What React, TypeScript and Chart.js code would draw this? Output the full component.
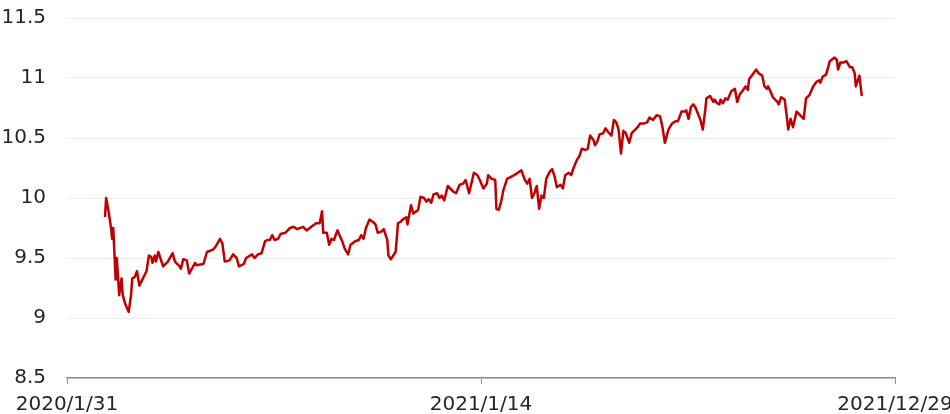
import React, { useEffect, useRef } from "react";
import { Chart, registerables } from "chart.js";

Chart.register(...registerables);

const dates: string[] = [
  "2020-03-03","2020-03-04","2020-03-06","2020-03-08","2020-03-09","2020-03-10","2020-03-12","2020-03-13","2020-03-15","2020-03-17",
  "2020-03-18","2020-03-20","2020-03-23","2020-03-25","2020-03-26","2020-03-28","2020-03-30","2020-04-01","2020-04-04","2020-04-07",
  "2020-04-09","2020-04-11","2020-04-12","2020-04-14","2020-04-15","2020-04-17","2020-04-21","2020-04-25","2020-04-29","2020-05-01",
  "2020-05-05","2020-05-06","2020-05-08","2020-05-11","2020-05-13","2020-05-18","2020-05-19","2020-05-25","2020-05-28","2020-06-02",
  "2020-06-04","2020-06-08","2020-06-10","2020-06-12","2020-06-16","2020-06-19","2020-06-22","2020-06-24","2020-06-28","2020-06-30",
  "2020-07-05","2020-07-07","2020-07-10","2020-07-13","2020-07-16","2020-07-18","2020-07-20","2020-07-22","2020-07-24","2020-07-27",
  "2020-07-29","2020-08-02","2020-08-06","2020-08-09","2020-08-12","2020-08-17","2020-08-20","2020-08-24","2020-08-28","2020-08-31",
  "2020-09-02","2020-09-03","2020-09-06","2020-09-08","2020-09-10","2020-09-12","2020-09-15","2020-09-19","2020-09-21","2020-09-24",
  "2020-09-26","2020-09-30","2020-10-03","2020-10-05","2020-10-07","2020-10-09","2020-10-12","2020-10-15","2020-10-17","2020-10-19",
  "2020-10-22","2020-10-24","2020-10-27","2020-10-28","2020-10-30","2020-11-03","2020-11-04","2020-11-05","2020-11-07","2020-11-09",
  "2020-11-12","2020-11-13","2020-11-16","2020-11-18","2020-11-22","2020-11-24","2020-11-27","2020-11-29","2020-12-01","2020-12-03",
  "2020-12-05","2020-12-08","2020-12-10","2020-12-12","2020-12-14","2020-12-17","2020-12-22","2020-12-24","2020-12-27","2020-12-30",
  "2021-01-01","2021-01-04","2021-01-08","2021-01-11","2021-01-13","2021-01-16","2021-01-19","2021-01-20","2021-01-23","2021-01-26",
  "2021-01-27","2021-01-29","2021-01-31","2021-02-02","2021-02-05","2021-02-11","2021-02-17","2021-02-20","2021-02-22","2021-02-24",
  "2021-02-26","2021-02-28","2021-03-02","2021-03-04","2021-03-06","2021-03-08","2021-03-10","2021-03-13","2021-03-15","2021-03-17",
  "2021-03-19","2021-03-22","2021-03-24","2021-03-26","2021-03-29","2021-03-31","2021-04-02","2021-04-05","2021-04-07","2021-04-09",
  "2021-04-12","2021-04-14","2021-04-16","2021-04-19","2021-04-20","2021-04-22","2021-04-24","2021-04-27","2021-04-29","2021-05-02",
  "2021-05-04","2021-05-06","2021-05-08","2021-05-10","2021-05-12","2021-05-14","2021-05-16","2021-05-19","2021-05-21","2021-05-24",
  "2021-05-26","2021-05-28","2021-05-31","2021-06-03","2021-06-05","2021-06-08","2021-06-11","2021-06-14","2021-06-16","2021-06-18",
  "2021-06-21","2021-06-24","2021-06-27","2021-06-29","2021-07-02","2021-07-05","2021-07-06","2021-07-08","2021-07-10","2021-07-12",
  "2021-07-14","2021-07-18","2021-07-20","2021-07-22","2021-07-23","2021-07-26","2021-07-29","2021-07-30","2021-08-01","2021-08-03",
  "2021-08-04","2021-08-06","2021-08-08","2021-08-10","2021-08-13","2021-08-16","2021-08-18","2021-08-20","2021-08-23","2021-08-25",
  "2021-08-27","2021-08-28","2021-08-31","2021-09-03","2021-09-05","2021-09-08","2021-09-10","2021-09-12","2021-09-13","2021-09-15",
  "2021-09-17","2021-09-19","2021-09-21","2021-09-22","2021-09-24","2021-09-27","2021-09-29","2021-09-30","2021-10-02","2021-10-04",
  "2021-10-07","2021-10-10","2021-10-13","2021-10-15","2021-10-18","2021-10-21","2021-10-24","2021-10-26","2021-10-27","2021-10-29",
  "2021-11-01","2021-11-04","2021-11-08","2021-11-10","2021-11-11","2021-11-13","2021-11-16","2021-11-18","2021-11-21","2021-11-23",
  "2021-11-25","2021-11-26","2021-11-28","2021-11-29","2021-12-01",
];

const values: number[] = [
  9.84,10.0,9.89,9.76,9.66,9.75,9.32,9.5,9.19,9.33,
  9.19,9.12,9.05,9.19,9.33,9.34,9.39,9.27,9.33,9.39,
  9.52,9.51,9.46,9.52,9.47,9.55,9.43,9.47,9.54,9.47,
  9.43,9.41,9.49,9.48,9.37,9.46,9.44,9.45,9.55,9.57,
  9.59,9.66,9.62,9.47,9.48,9.53,9.5,9.43,9.45,9.5,
  9.53,9.5,9.53,9.54,9.64,9.65,9.65,9.69,9.65,9.66,
  9.7,9.71,9.75,9.76,9.74,9.76,9.73,9.76,9.79,9.79,
  9.89,9.71,9.71,9.61,9.66,9.65,9.73,9.64,9.58,9.53,
  9.61,9.64,9.65,9.69,9.66,9.75,9.82,9.8,9.78,9.71,
  9.72,9.74,9.65,9.52,9.49,9.55,9.66,9.79,9.8,9.82,
  9.84,9.78,9.94,9.87,9.9,10.01,10.0,9.97,9.99,9.96,
  10.03,10.04,10.0,10.02,9.98,10.1,10.05,10.04,10.11,10.12,
  10.15,10.04,10.21,10.19,10.15,10.08,10.12,10.19,10.16,10.15,
  9.91,9.9,9.97,10.07,10.16,10.19,10.23,10.15,10.12,10.16,
  10.0,10.04,10.1,9.91,10.02,10.0,10.16,10.22,10.24,10.18,
  10.09,10.11,10.08,10.19,10.21,10.19,10.25,10.32,10.35,10.41,
  10.4,10.41,10.52,10.48,10.44,10.47,10.53,10.54,10.58,10.54,
  10.52,10.65,10.63,10.57,10.37,10.56,10.54,10.46,10.54,10.57,
  10.59,10.62,10.62,10.63,10.67,10.65,10.69,10.68,10.59,10.46,
  10.57,10.62,10.64,10.64,10.72,10.72,10.73,10.66,10.76,10.78,
  10.75,10.65,10.57,10.73,10.83,10.85,10.8,10.82,10.79,10.78,
  10.82,10.79,10.83,10.82,10.89,10.91,10.8,10.86,10.9,10.93,
  10.9,10.99,11.03,11.07,11.04,11.02,10.93,10.91,10.93,10.89,
  10.84,10.82,10.8,10.78,10.84,10.82,10.66,10.57,10.66,10.59,
  10.72,10.69,10.66,10.83,10.86,10.93,10.97,10.98,10.96,11.01,
  11.03,11.14,11.17,11.15,11.07,11.13,11.13,11.14,11.09,11.09,
  11.04,10.93,10.99,11.02,10.85,
];

const tickDates: string[] = ["2020-01-31", "2021-01-14", "2021-12-29"];
const tickLabels: string[] = ["2020/1/31", "2021/1/14", "2021/12/29"];

const yMin = 8.5;
const yMax = 11.5;
const yStep = 0.5;

const toUTC = (s: string) => {
  const [y, m, d] = s.split("-").map(Number);
  return Date.UTC(y, m - 1, d);
};
const ORIGIN = toUTC(tickDates[0]);
const toDay = (s: string) => Math.round((toUTC(s) - ORIGIN) / 86400000);

export default function App() {
  const ref = useRef<HTMLCanvasElement | null>(null);

  useEffect(() => {
    document.documentElement.style.overflow = "hidden";
    document.body.style.margin = "0";
    document.body.style.overflow = "hidden";
    const canvas = ref.current;
    if (!canvas) return;
    const tickDays = tickDates.map(toDay);
    const font = { family: "'DejaVu Sans', sans-serif", size: 20 };
    const chart = new Chart(canvas, {
      type: "line",
      data: {
        datasets: [
          {
            data: dates.map((d, i) => ({ x: toDay(d), y: values[i] })),
            borderColor: "#C00000",
            borderWidth: 2.5,
            borderJoinStyle: "round",
            pointRadius: 0,
            tension: 0,
            fill: false,
          },
        ],
      },
      options: {
        animation: false,
        responsive: false,
        devicePixelRatio: 1,
        layout: { padding: { top: 18, right: 105, bottom: 0, left: 0 } },
        plugins: { legend: { display: false }, tooltip: { enabled: false } },
        scales: {
          x: {
            type: "linear",
            min: tickDays[0],
            max: tickDays[tickDays.length - 1],
            afterBuildTicks: (scale: any) => {
              scale.ticks = tickDays.map((v) => ({ value: v }));
            },
            afterFit: (scale: any) => {
              scale.height = 36;
              scale.paddingLeft = 0;
              scale.paddingRight = 0;
            },
            grid: {
              display: true,
              drawOnChartArea: false,
              drawTicks: true,
              tickLength: 6,
              color: "#8c8c8c",
              lineWidth: 1,
            },
            border: { display: true, color: "#8c8c8c", width: 1.5 },
            ticks: {
              autoSkip: false,
              maxRotation: 0,
              minRotation: 0,
              padding: 9,
              color: "#262626",
              font,
              callback: (value: any) => {
                const i = tickDays.indexOf(Number(value));
                return i >= 0 ? tickLabels[i] : "";
              },
            },
          },
          y: {
            min: yMin,
            max: yMax,
            afterFit: (scale: any) => {
              scale.width = 67;
              scale.paddingTop = 0;
              scale.paddingBottom = 0;
            },
            grid: { color: "#ececec", lineWidth: 1, drawTicks: false },
            border: { display: false },
            ticks: {
              stepSize: yStep,
              padding: 21,
              color: "#262626",
              font,
              callback: (value: any) => String(Math.round(Number(value) * 10) / 10),
            },
          },
        },
      },
    });
    return () => chart.destroy();
  }, []);

  return (
    <div style={{ width: 1000, height: 414 }}>
      <canvas ref={ref} width={1000} height={414} style={{ display: "block" }} />
    </div>
  );
}
